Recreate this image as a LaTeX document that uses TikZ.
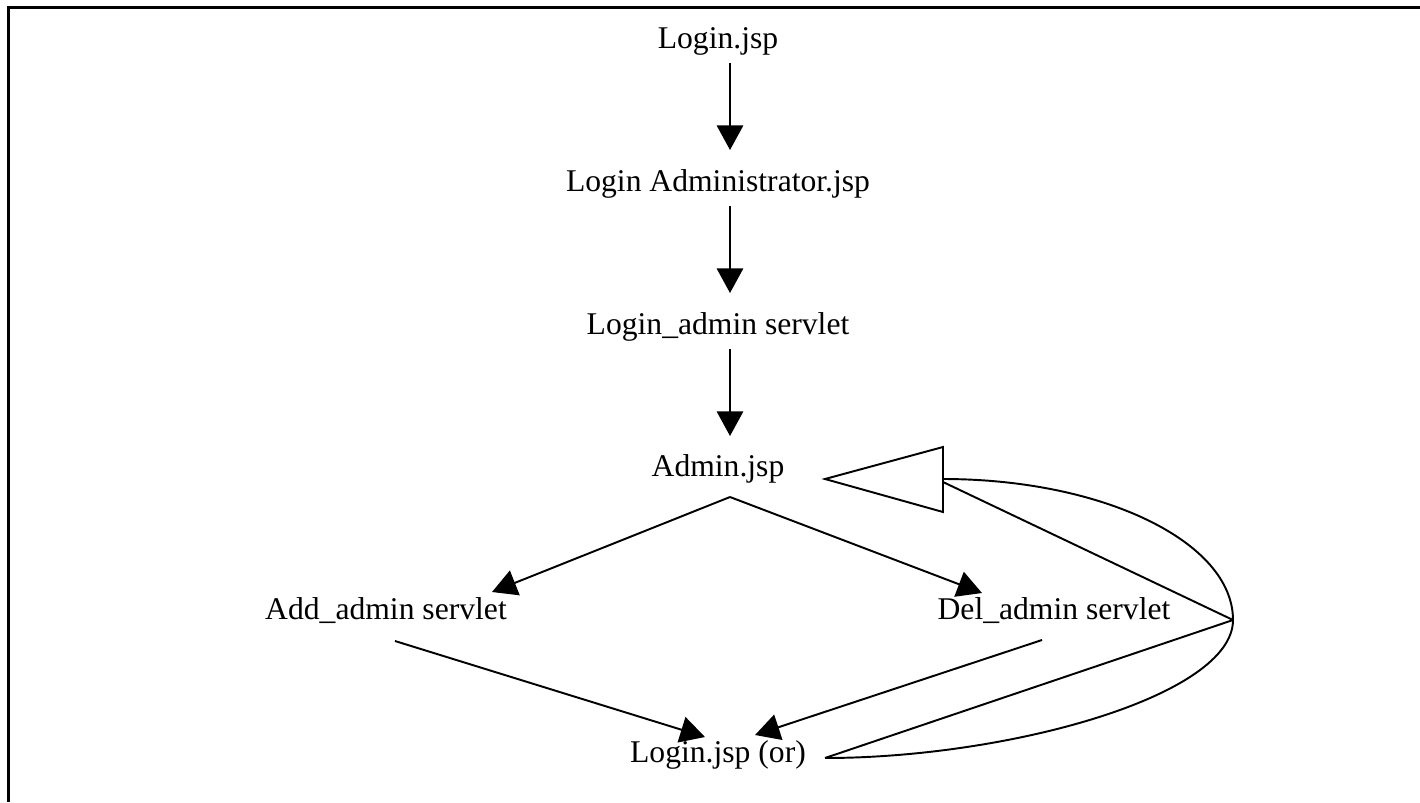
\documentclass[tikz,border=0pt]{standalone}
\usepackage{fontspec}
\setmainfont{Liberation Serif}
\usetikzlibrary{arrows.meta}

\begin{document}
\begin{tikzpicture}[x=0.02cm, y=-0.02cm,
    page/.style={anchor=base, inner sep=0pt, font=\fontsize{18}{22}\selectfont},
    flow/.style={line width=1.1pt, -{Triangle[length=14pt,width=15pt]}},
    plain/.style={line width=1.1pt}]
    \useasboundingbox (0,0) rectangle (1420,802);
    \draw [line width=1.7pt] (8.5,802) -- (8.5,7.3) -- (1420,7.3);

    \node[page] at (718,48) (login) {Login.jsp};
    \node[page] at (718,191) (loginadm) {Login Administrator.jsp};
    \node[page] at (718,334) (loginsrv) {Login\_admin servlet};
    \node[page] at (718,476) (admin) {Admin.jsp};
    \node[page] at (386,619) (addsrv) {Add\_admin servlet};
    \node[page] at (1054,619) (delsrv) {Del\_admin servlet};
    \node[page] at (718,762) (loginor) {Login.jsp (or)};
    \coordinate (loop) at (1233,620);

    \draw [flow] ([shift={(12,15)}]login.base) -- ([shift={(12,-41)}]loginadm.base);
    \draw [flow] ([shift={(12,15)}]loginadm.base) -- ([shift={(12,-41)}]loginsrv.base);
    \draw [flow] ([shift={(12,15)}]loginsrv.base) -- ([shift={(12,-40)}]admin.base);
    \draw [flow] ([shift={(12,21)}]admin.base) -- ([shift={(106,-27)}]addsrv.base);
    \draw [flow] ([shift={(12,21)}]admin.base) -- ([shift={(-72,-26)}]delsrv.base);
    \draw [flow] ([shift={(9,22)}]addsrv.base) -- ([shift={(-13,-25)}]loginor.base);
    \draw [flow] ([shift={(-12,21)}]delsrv.base) -- ([shift={(37,-27)}]loginor.base);

    % back to Admin.jsp
    \draw [plain, line join=round] ([shift={(107,-4)}]loginor.base) -- (loop) -- ([shift={(225,6)}]admin.base);
    \draw [plain] ([shift={(225,3)}]admin.base) .. controls (1103,479) and (1233,542) .. (loop)
        .. controls (1233,696) and (1008,758) .. ([shift={(107,-4)}]loginor.base);
    \draw [plain, line join=miter] ([shift={(107,3)}]admin.base) -- ++(118,-32) -- ++(0,65) -- cycle;
\end{tikzpicture}
\end{document}
